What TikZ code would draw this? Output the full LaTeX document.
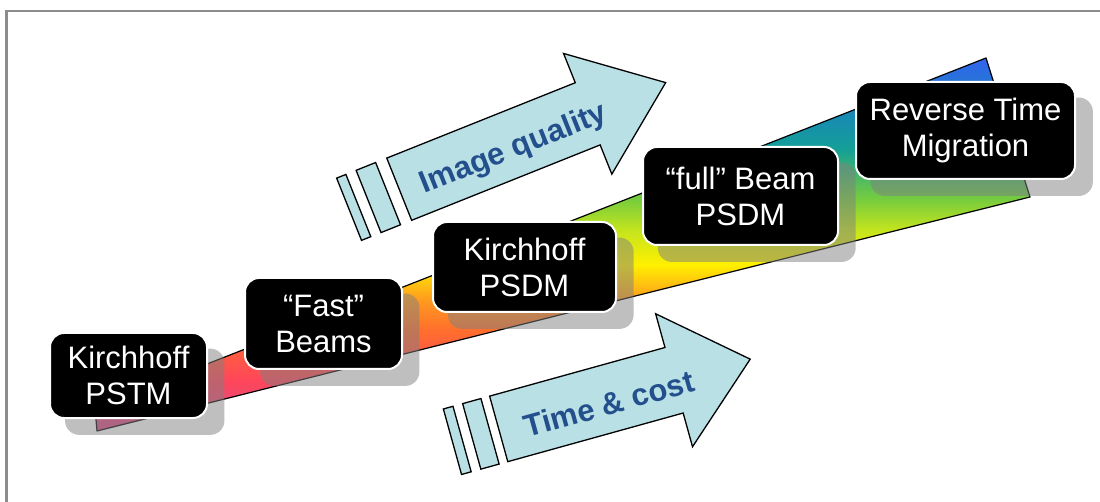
\documentclass[tikz,border=0pt]{standalone}
\usepackage{fontspec}
\setmainfont{Liberation Sans}
\usetikzlibrary{shadows}

\definecolor{framegray}{RGB}{140,140,140}
\definecolor{arrowfill}{RGB}{185,224,229}
\definecolor{labelblue}{RGB}{35,80,140}

% rainbow band colours, bottom to top
\definecolor{bandA}{RGB}{215,75,145}
\definecolor{bandB}{RGB}{255,70,90}
\definecolor{bandC}{RGB}{255,110,45}
\definecolor{bandD}{RGB}{255,155,30}
\definecolor{bandE}{RGB}{255,240,0}
\definecolor{bandF}{RGB}{195,228,30}
\definecolor{bandG}{RGB}{120,205,60}
\definecolor{bandH}{RGB}{20,160,150}
\definecolor{bandI}{RGB}{25,135,185}
\definecolor{bandJ}{RGB}{50,100,240}

\pgfdeclareverticalshading{bandshade}{100bp}{%
  color(0bp)=(bandA); color(25bp)=(bandA); color(31.8bp)=(bandB);
  color(38.5bp)=(bandC); color(42.6bp)=(bandD); color(47.3bp)=(bandE);
  color(52bp)=(bandF); color(56bp)=(bandG); color(62.7bp)=(bandH);
  color(68bp)=(bandI); color(75bp)=(bandJ); color(100bp)=(bandJ)}

\begin{document}
\begin{tikzpicture}[x=1pt,y=-1pt,
  stepbox/.style={draw=white, line width=2pt, fill=black, rounded corners=14pt,
    text=white, font=\fontsize{31}{36}\selectfont, align=center, inner sep=0pt,
    drop shadow={shadow xshift=16pt, shadow yshift=-16pt, shadow scale=1.015,
      opacity=0.5, fill=black!50}},
  arrowshape/.style={fill=arrowfill, draw=black, line width=1.3pt, line join=miter},
  arrowlabel/.style={text=labelblue, font=\bfseries\fontsize{31}{36}\selectfont, inner sep=0pt}]

\useasboundingbox (0,0) rectangle (1100,502);
\fill[white] (0,0) rectangle (1100,502);

% frame
\draw[framegray, line width=2.5pt] (6.5,502) -- (6.5,11) -- (1100,11);

% rising rainbow band
\shadedraw[shading=bandshade, draw=black, line width=1.2pt, line join=round]
  (95,408) -- (986,58) -- (1030,197) -- (97,431) -- cycle;

% "Image quality" arrow
\begin{scope}[shift={(399.2,189.2)}, rotate=21.8]
  \filldraw[arrowshape] (-54,-33.5) rectangle (-44,33.5);
  \filldraw[arrowshape] (-33,-33.5) rectangle (-12,33.5);
  \filldraw[arrowshape] (0,-33.5) -- (203,-33.5) -- (203,-65) -- (287,0)
    -- (203,65) -- (203,33.5) -- (0,33.5) -- cycle;
  \node[arrowlabel, rotate=21.8] (iqlabel) at (121,6) {Image quality};
\end{scope}

% "Time & cost" arrow
\begin{scope}[shift={(498.7,428.9)}, rotate=15.5]
  \filldraw[arrowshape] (-48,-34) rectangle (-38,34);
  \filldraw[arrowshape] (-28,-34) rectangle (-9,34);
  \filldraw[arrowshape] (0,-34) -- (182,-34) -- (182,-69) -- (261,0)
    -- (182,69) -- (182,34) -- (0,34) -- cycle;
  \node[arrowlabel, rotate=15.5] (tclabel) at (113,5) {Time \& cost};
\end{scope}

% migration methods
\node[stepbox, minimum width=157pt, minimum height=85pt] (kpstm) at (128.5,375.5) {Kirchhoff\\PSTM};
\node[stepbox, minimum width=157pt, minimum height=91pt] (fastbeam) at (323.5,323.5) {“Fast”\\Beams};
\node[stepbox, minimum width=183pt, minimum height=90pt] (kpsdm) at (524.5,267) {Kirchhoff\\PSDM};
\node[stepbox, minimum width=195pt, minimum height=98pt] (fullbeam) at (740.5,196) {“full” Beam\\PSDM};
\node[stepbox, minimum width=219pt, minimum height=97pt] (rtm) at (965.5,130.5) {Reverse Time\\Migration};

\end{tikzpicture}
\end{document}
